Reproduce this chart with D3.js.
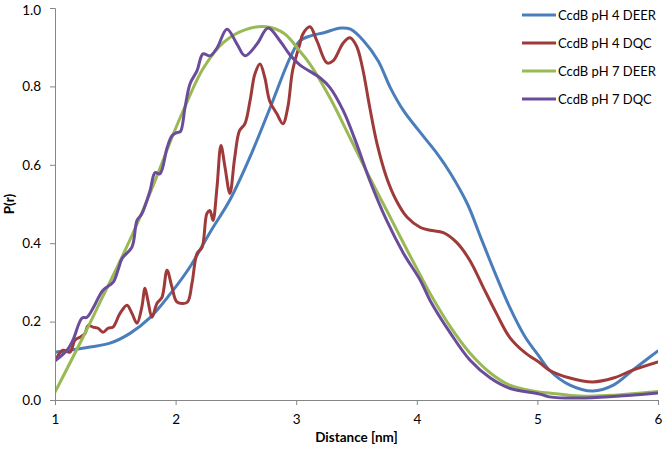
<!DOCTYPE html>
<html><head><meta charset="utf-8">
<script src="https://cdn.jsdelivr.net/npm/d3@7"></script>
<style>body{margin:0;background:#fff}svg{display:block}text{font-family:Lato,"Noto Sans",sans-serif}</style>
</head><body><svg id="c" width="664" height="450"></svg>
<script>
const seriesNames = ["CcdB pH 4 DEER","CcdB pH 4 DQC","CcdB pH 7 DEER","CcdB pH 7 DQC"];
const xTicks = [1,2,3,4,5,6];
const yTicks = [0,0.2,0.4,0.6,0.8,1.0];

const ph4DeerR = [1.0,1.124,1.29,1.456,1.622,1.788,1.954,2.12,2.29,2.45,2.617,2.783,2.949,3.03,3.12,3.23,3.37,3.45,3.56,3.68,3.78,3.89,4.03,4.17,4.28,4.42,4.53,4.65,4.77,4.90,5.02,5.10,5.27,5.46,5.63,5.79,5.93,6.0];
const ph4DeerP = [0.122,0.127,0.135,0.145,0.17,0.21,0.27,0.34,0.43,0.51,0.62,0.745,0.873,0.916,0.929,0.937,0.949,0.946,0.916,0.865,0.797,0.738,0.682,0.628,0.578,0.50,0.415,0.323,0.237,0.160,0.109,0.076,0.038,0.023,0.038,0.076,0.109,0.125];

const ph4DqcR = [1.0,1.066,1.124,1.166,1.207,1.249,1.274,1.315,1.357,1.398,1.44,1.481,1.539,1.597,1.638,1.68,1.72,1.746,1.77,1.804,1.846,1.887,1.929,1.97,2.012,2.095,2.136,2.178,2.22,2.26,2.285,2.31,2.343,2.376,2.41,2.45,2.49,2.53,2.575,2.617,2.658,2.7,2.74,2.78,2.84,2.89,2.93,2.97,3.03,3.056,3.114,3.172,3.255,3.305,3.39,3.446,3.5,3.55,3.61,3.67,3.75,3.83,3.92,4.03,4.11,4.22,4.33,4.44,4.55,4.66,4.77,4.90,5.02,5.10,5.27,5.46,5.63,5.79,6.0];
const ph4DqcP = [0.10,0.127,0.122,0.153,0.16,0.17,0.19,0.186,0.183,0.173,0.183,0.186,0.221,0.242,0.221,0.196,0.237,0.285,0.254,0.211,0.247,0.262,0.331,0.288,0.25,0.249,0.298,0.374,0.39,0.476,0.483,0.458,0.542,0.649,0.593,0.527,0.618,0.687,0.705,0.763,0.832,0.857,0.822,0.763,0.73,0.705,0.746,0.84,0.908,0.934,0.952,0.916,0.86,0.865,0.911,0.924,0.903,0.847,0.746,0.654,0.567,0.509,0.466,0.44,0.433,0.427,0.402,0.356,0.288,0.221,0.16,0.12,0.095,0.076,0.056,0.046,0.056,0.076,0.097];

const ph7DeerR = [1.0,1.232,1.398,1.564,1.71,1.85,1.97,2.08,2.227,2.4,2.58,2.75,2.9,3.03,3.114,3.28,3.446,3.61,3.78,3.92,4.03,4.11,4.28,4.44,4.61,4.77,5.02,5.10,5.35,5.6,6.0];
const ph7DeerP = [0.02,0.16,0.265,0.37,0.47,0.575,0.67,0.75,0.845,0.913,0.945,0.952,0.935,0.89,0.857,0.771,0.669,0.567,0.466,0.382,0.318,0.272,0.186,0.12,0.069,0.038,0.02,0.018,0.01,0.012,0.022];

const ph7DqcR = [1.0,1.1,1.149,1.224,1.265,1.315,1.398,1.481,1.522,1.556,1.638,1.68,1.72,1.788,1.83,1.87,1.93,1.97,2.01,2.04,2.078,2.12,2.178,2.227,2.285,2.343,2.426,2.509,2.575,2.675,2.766,2.866,2.949,3.03,3.197,3.28,3.39,3.5,3.61,3.75,3.89,4.03,4.11,4.28,4.44,4.61,4.77,5.02,5.10,5.35,6.0];
const ph7DqcP = [0.10,0.127,0.153,0.209,0.211,0.234,0.28,0.30,0.331,0.361,0.39,0.458,0.475,0.534,0.58,0.577,0.644,0.674,0.682,0.685,0.746,0.807,0.84,0.883,0.878,0.898,0.946,0.908,0.878,0.908,0.949,0.916,0.88,0.855,0.822,0.797,0.738,0.654,0.56,0.458,0.374,0.305,0.254,0.17,0.102,0.056,0.03,0.015,0.008,0.005,0.018];

const colors = ["#4A7EBB","#9E3B3A","#98B954","#6B4C9A"];
const series = [
  {name:seriesNames[0], r:ph4DeerR, p:ph4DeerP, color:colors[0]},
  {name:seriesNames[1], r:ph4DqcR, p:ph4DqcP, color:colors[1]},
  {name:seriesNames[2], r:ph7DeerR, p:ph7DeerP, color:colors[2]},
  {name:seriesNames[3], r:ph7DqcR, p:ph7DqcP, color:colors[3]}
];

const svg = d3.select("#c");
const L=55, R=658, T=8, B=400;
const x = d3.scaleLinear().domain([1,6]).range([L,R]);
const y = d3.scaleLinear().domain([0,1]).range([B,T]);
const axisColor = "#868686";

svg.append("defs").append("clipPath").attr("id","clip")
  .append("rect").attr("x",L).attr("y",T-4).attr("width",R-L).attr("height",B-T+4);

const line = d3.line().x(d=>x(d[0])).y(d=>y(d[1])).curve(d3.curveCatmullRom.alpha(0.5));
const g = svg.append("g").attr("clip-path","url(#clip)");
series.forEach(s=>{
  const pts = s.r.map((r,i)=>[r,s.p[i]]);
  g.append("path").attr("d",line(pts)).attr("fill","none")
   .attr("stroke",s.color).attr("stroke-width",3).attr("stroke-linejoin","round").attr("stroke-linecap","round");
});

const yAxis = svg.append("g").attr("transform",`translate(${L},0)`)
  .call(d3.axisLeft(y).tickValues(yTicks).tickFormat(d3.format(".1f")).tickSize(5).tickPadding(9));
const xAxis = svg.append("g").attr("transform",`translate(0,${B})`)
  .call(d3.axisBottom(x).tickValues(xTicks).tickFormat(d3.format("d")).tickSize(5).tickPadding(9));
[yAxis,xAxis].forEach(a=>{
  a.select(".domain").attr("stroke",axisColor);
  a.selectAll(".tick line").attr("stroke",axisColor);
  a.selectAll(".tick text").attr("fill","#000").style("font-size","13.5px").style("font-family","Lato,'Noto Sans',sans-serif");
});
yAxis.selectAll(".tick text").filter(d=>d===1).attr("dy","0.45em");

svg.append("text").attr("x",(L+R)/2).attr("y",442).attr("text-anchor","middle")
  .style("font-size","13.5px").style("font-weight","bold").text("Distance [nm]");
svg.append("text").attr("transform",`translate(14,${(T+B)/2}) rotate(-90)`).attr("text-anchor","middle")
  .style("font-size","13.5px").style("font-weight","bold").text("P(r)");

const leg = svg.append("g");
series.forEach((s,i)=>{
  const yy = 15 + i*28;
  leg.append("line").attr("x1",522).attr("x2",556).attr("y1",yy).attr("y2",yy)
    .attr("stroke",s.color).attr("stroke-width",3);
  leg.append("text").attr("x",558).attr("y",yy).attr("dy","0.35em")
    .style("font-size","13px").text(s.name);
});
</script></body></html>
